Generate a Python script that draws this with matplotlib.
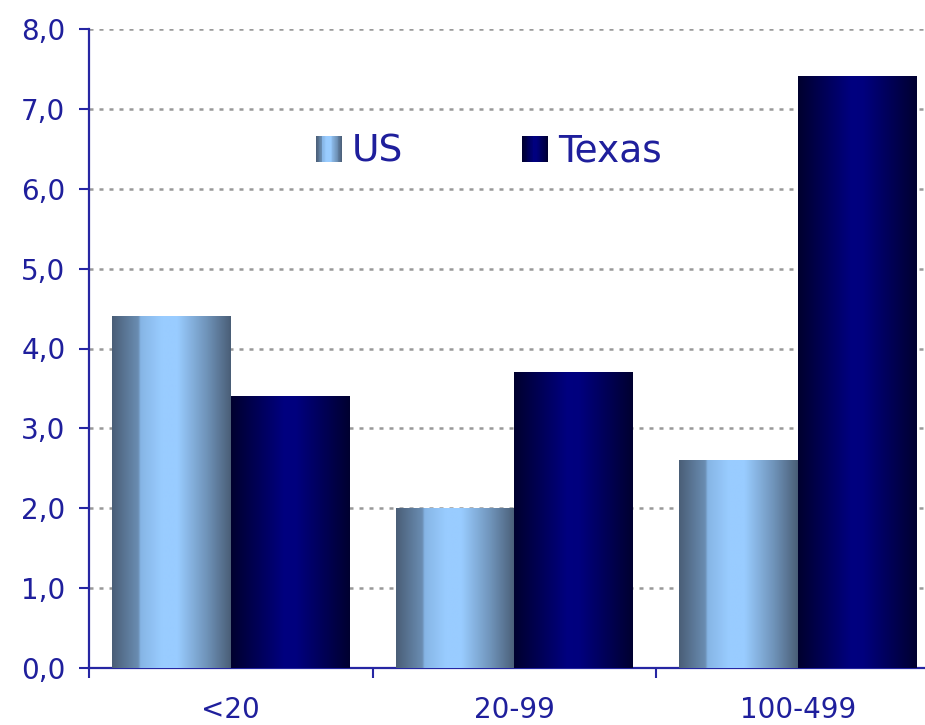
import matplotlib
matplotlib.use('Agg')
import matplotlib.pyplot as plt
import numpy as np
from matplotlib.colors import LinearSegmentedColormap
from matplotlib.legend_handler import HandlerBase
from matplotlib.patches import Rectangle, Patch

# data
categories = ['<20', '20-99', '100-499']
us = [4.4, 2.0, 2.6]
texas = [3.4, 3.7, 7.4]
series_names = ['US', 'Texas']

txt_col = '#1f1f9c'
axis_col = '#2626a3'

us_cmap = LinearSegmentedColormap.from_list('us', [
    (0.0, '#4a5e77'), (0.22, '#6a8db2'), (0.24, '#86b5e5'),
    (0.42, '#99ccff'), (0.55, '#99ccff'), (0.8, '#6f93b9'), (1.0, '#4a5e77')])
tx_cmap = LinearSegmentedColormap.from_list('tx', [
    (0.0, '#00002e'), (0.45, '#000080'), (0.55, '#00007e'), (1.0, '#000030')])


class GradHandler(HandlerBase):
    def __init__(self, cmap):
        super().__init__()
        self.cmap = cmap

    def create_artists(self, legend, orig_handle, xdescent, ydescent,
                       width, height, fontsize, trans):
        n = 30
        out = []
        for i in range(n):
            r = Rectangle((-xdescent + i * width / n, -ydescent), width / n * 1.05, height,
                          facecolor=self.cmap((i + 0.5) / n), edgecolor='none',
                          linewidth=0, transform=trans)
            out.append(r)
        return out


fig = plt.figure(figsize=(9.25, 7.25), dpi=100)
ax = fig.add_axes([89 / 925, 57 / 725, 850.5 / 925, 639 / 725])

x = np.arange(len(categories))
w = 0.418
grad = np.linspace(0, 1, 256).reshape(1, -1)

bars_us = ax.bar(x - w / 2, us, w, color='none', edgecolor='none')
bars_tx = ax.bar(x + w / 2, texas, w, color='none', edgecolor='none')

for bars, cmap in [(bars_us, us_cmap), (bars_tx, tx_cmap)]:
    for p in bars:
        x0 = p.get_x()
        x1 = x0 + p.get_width()
        h = p.get_height()
        ax.imshow(grad, extent=(x0, x1, 0, h), aspect='auto', cmap=cmap,
                  interpolation='bilinear', zorder=3)

ax.set_xlim(-0.5, 2.5)
ax.set_ylim(0, 8)

ax.set_yticks(np.arange(0, 9, 1))
ax.set_yticklabels([('%.1f' % v).replace('.', ',') for v in np.arange(0, 9, 1)])
ax.set_xticks(x)
ax.set_xticklabels(categories)
ax.set_xticks([-0.5, 0.5, 1.5, 2.5], minor=True)

ax.tick_params(axis='y', direction='out', length=7, width=1.5, color=axis_col,
               labelcolor=txt_col, labelsize=20, pad=10)
ax.tick_params(axis='x', which='major', length=0, labelcolor=txt_col, labelsize=20, pad=20)
ax.tick_params(axis='x', which='minor', direction='out', length=7, width=1.5, color=axis_col)

for s in ['top', 'right']:
    ax.spines[s].set_visible(False)
for s in ['left', 'bottom']:
    ax.spines[s].set_color(axis_col)
    ax.spines[s].set_linewidth(1.6)

ax.set_axisbelow(True)
ax.yaxis.grid(True, color='#999999', linewidth=1.8, linestyle=(0, (1.6, 2.4)))

handles = [Patch(label=series_names[0]), Patch(label=series_names[1])]
ax.legend(handles=handles, ncol=2, frameon=False, loc='center',
          bbox_to_anchor=(489 / 925, 1 - 152 / 725), bbox_transform=fig.transFigure,
          fontsize=27, labelcolor=txt_col, handlelength=0.69, handleheight=0.69,
          handletextpad=0.27, columnspacing=3.17,
          handler_map={handles[0]: GradHandler(us_cmap), handles[1]: GradHandler(tx_cmap)})

fig.savefig('out.png', dpi=100)
